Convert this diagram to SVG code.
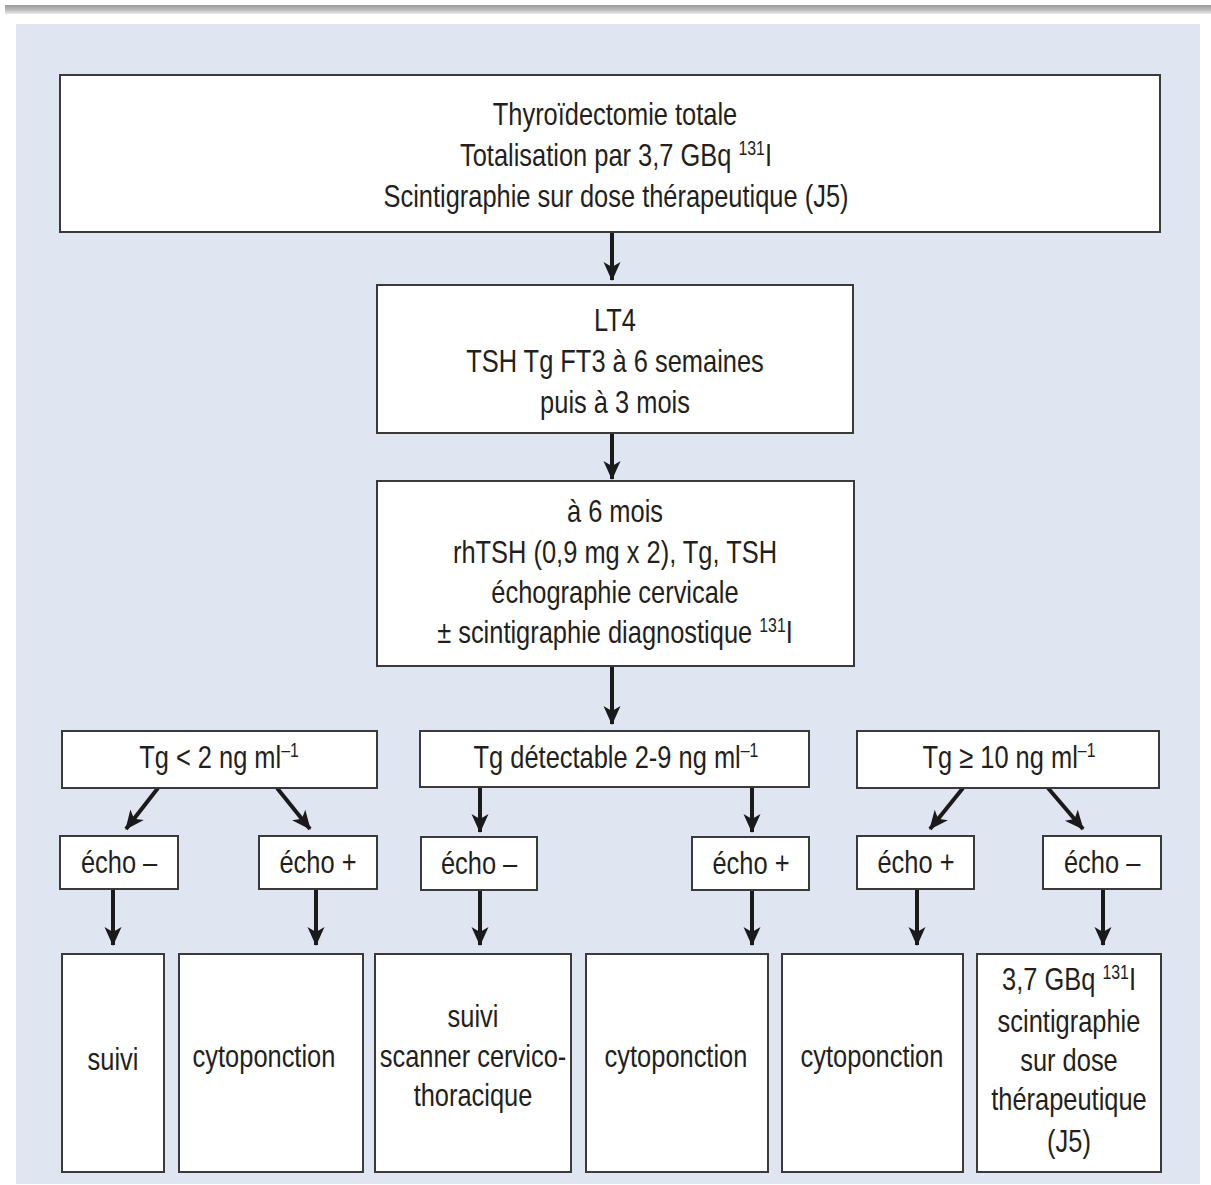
<svg xmlns="http://www.w3.org/2000/svg" width="1211" height="1185" viewBox="0 0 1211 1185">
<defs>
<linearGradient id="bar" x1="0" y1="0" x2="0" y2="1">
<stop offset="0" stop-color="#9a9a9a"/>
<stop offset="0.5" stop-color="#b8b8b8"/>
<stop offset="1" stop-color="#ececec"/>
</linearGradient>
<marker id="ah" markerUnits="userSpaceOnUse" markerWidth="24" markerHeight="20" viewBox="-20 -10 22 20" refX="0" refY="0" orient="auto">
<path d="M1,0 L-18,-8.5 L-13,0 L-18,8.5 Z" fill="#1a1a1a"/>
</marker>
<style>
.box{fill:#ffffff;stroke:#3a3a3a;stroke-width:2}
.t{font-family:"Liberation Sans",Arial,sans-serif;font-size:32px;fill:#231f20;text-anchor:middle;transform-box:fill-box;transform-origin:center;transform:scaleX(0.795)}
.sup{font-size:20px}
.c line{stroke:#1a1a1a;stroke-width:4;marker-end:url(#ah)}
</style>
</defs>
<rect x="0" y="0" width="1211" height="1185" fill="#ffffff"/>
<rect x="5" y="5" width="1206" height="9" fill="url(#bar)"/>
<rect x="16" y="24" width="1184" height="1160" fill="#e0e5f2"/>

<g id="connectors" class="c">
<line x1="612" y1="232" x2="612" y2="280"/>
<line x1="612" y1="433" x2="612" y2="479"/>
<line x1="612" y1="666" x2="612" y2="724"/>
<line x1="158" y1="788" x2="126" y2="829"/>
<line x1="277" y1="788" x2="310" y2="829"/>
<line x1="480" y1="787" x2="480" y2="832"/>
<line x1="752" y1="787" x2="752" y2="832"/>
<line x1="963" y1="788" x2="930" y2="829"/>
<line x1="1048" y1="788" x2="1083" y2="829"/>
<line x1="113" y1="889" x2="113" y2="945"/>
<line x1="316" y1="889" x2="316" y2="945"/>
<line x1="480" y1="890" x2="480" y2="945"/>
<line x1="752" y1="890" x2="752" y2="945"/>
<line x1="917" y1="889" x2="917" y2="945"/>
<line x1="1103" y1="889" x2="1103" y2="945"/>
</g>

<g id="n-top">
<rect class="box" x="60" y="75" width="1100" height="157"/>
<text class="t" x="615" y="125">Thyroïdectomie totale</text>
<text class="t" x="616" y="166">Totalisation par 3,7 GBq <tspan class="sup" dy="-11">131</tspan><tspan dy="11">I</tspan></text>
<text class="t" x="616" y="207">Scintigraphie sur dose thérapeutique (J5)</text>
</g>

<g id="n-lt4">
<rect class="box" x="377" y="285" width="476" height="148"/>
<text class="t" x="615" y="331">LT4</text>
<text class="t" x="615" y="372">TSH Tg FT3 à 6 semaines</text>
<text class="t" x="615" y="413">puis à 3 mois</text>
</g>

<g id="n-6mois">
<rect class="box" x="377" y="481" width="477" height="185"/>
<text class="t" x="615" y="522">à 6 mois</text>
<text class="t" x="615" y="563">rhTSH (0,9 mg x 2), Tg, TSH</text>
<text class="t" x="615" y="603">échographie cervicale</text>
<text class="t" x="615" y="643">± scintigraphie diagnostique <tspan class="sup" dy="-11">131</tspan><tspan dy="11">I</tspan></text>
</g>

<g id="n-tg-low">
<rect class="box" x="62" y="731" width="315" height="57"/>
<text class="t" x="219" y="768">Tg &lt; 2 ng ml<tspan class="sup" dy="-11">–1</tspan></text>
</g>

<g id="n-tg-mid">
<rect class="box" x="420" y="731" width="389" height="56"/>
<text class="t" x="616" y="768">Tg détectable 2-9 ng ml<tspan class="sup" dy="-11">–1</tspan></text>
</g>

<g id="n-tg-high">
<rect class="box" x="857" y="731" width="302" height="57"/>
<text class="t" x="1009" y="768">Tg ≥ 10 ng ml<tspan class="sup" dy="-11">–1</tspan></text>
</g>

<g id="n-echo1">
<rect class="box" x="60" y="836" width="118" height="53"/>
<text class="t" x="119" y="873">écho –</text>
</g>
<g id="n-echo2">
<rect class="box" x="259" y="836" width="118" height="53"/>
<text class="t" x="318" y="873">écho +</text>
</g>
<g id="n-echo3">
<rect class="box" x="421" y="837" width="116" height="53"/>
<text class="t" x="479" y="874">écho –</text>
</g>
<g id="n-echo4">
<rect class="box" x="692" y="837" width="117" height="53"/>
<text class="t" x="751" y="874">écho +</text>
</g>
<g id="n-echo5">
<rect class="box" x="857" y="836" width="117" height="53"/>
<text class="t" x="916" y="873">écho +</text>
</g>
<g id="n-echo6">
<rect class="box" x="1043" y="836" width="118" height="53"/>
<text class="t" x="1102" y="873">écho –</text>
</g>

<g id="n-r1">
<rect class="box" x="62" y="954" width="102" height="218"/>
<text class="t" x="113" y="1070">suivi</text>
</g>
<g id="n-r2">
<rect class="box" x="179" y="954" width="184" height="218"/>
<text class="t" x="264" y="1067">cytoponction</text>
</g>
<g id="n-r3">
<rect class="box" x="375" y="954" width="196" height="218"/>
<text class="t" x="473" y="1027">suivi</text>
<text class="t" x="473" y="1067">scanner cervico-</text>
<text class="t" x="473" y="1106">thoracique</text>
</g>
<g id="n-r4">
<rect class="box" x="586" y="954" width="182" height="218"/>
<text class="t" x="676" y="1067">cytoponction</text>
</g>
<g id="n-r5">
<rect class="box" x="782" y="954" width="181" height="218"/>
<text class="t" x="872" y="1067">cytoponction</text>
</g>
<g id="n-r6">
<rect class="box" x="977" y="954" width="184" height="218"/>
<text class="t" x="1069" y="990">3,7 GBq <tspan class="sup" dy="-11">131</tspan><tspan dy="11">I</tspan></text>
<text class="t" x="1069" y="1032">scintigraphie</text>
<text class="t" x="1069" y="1071">sur dose</text>
<text class="t" x="1069" y="1110">thérapeutique</text>
<text class="t" x="1069" y="1152">(J5)</text>
</g>
</svg>
